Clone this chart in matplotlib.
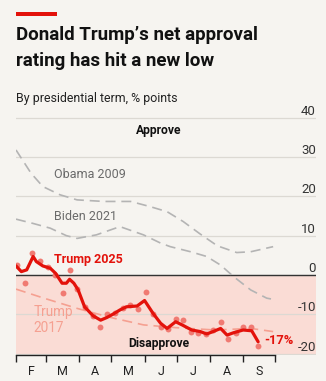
import matplotlib
matplotlib.use("Agg")
import matplotlib.pyplot as plt

# ---------------- data ----------------
months = ["F", "M", "A", "M", "J", "J", "A", "S"]
month_starts = [0, 28, 59, 89, 120, 150, 181, 212, 242]   # days since Feb 1

trump25_days = [0, 5, 10, 16, 19, 25, 32, 37, 43, 47, 50, 54, 58, 64, 72, 79, 85, 91, 97,
                103, 113, 120, 128, 135, 141, 149, 155, 164, 172, 178, 184, 191, 197, 203,
                212, 220, 226]
trump25_vals = [2.3, 0.85, 1.3, 4.7, 3.4, 2.3, 1.7, 0.4, -2.1, -2.1, -1.1, -2.1, -3.8, -8.1,
                -10.4, -11.5, -10.8, -9.9, -8.9, -8.1, -7.9, -6.5, -9.8, -12.3, -13.6, -11.9,
                -12.7, -14.0, -14.4, -15.0, -14.4, -13.6, -15.3, -14.7, -14.0, -14.2, -17.0]

poll_days = [1, 8, 15, 22, 30, 36, 44, 50, 57, 64, 72, 78, 85, 92, 100, 106, 114, 121, 128,
             135, 142, 149, 156, 163, 170, 177, 184, 191, 198, 205, 212, 219, 226]
poll_vals = [2.5, -2.1, 5.5, 3.6, 1.9, 0.0, -4.7, 1.3, -3.6, -8.2, -10.4, -13.2, -9.9, -9.6,
             -8.5, -7.6, -8.7, -4.4, -9.9, -13.2, -13.8, -11.3, -11.5, -14.4, -14.7, -15.0,
             -14.0, -11.9, -16.4, -14.7, -13.3, -13.3, -18.1]

trump17_days = [0, 26, 57, 88, 119, 149, 186, 219, 240]
trump17_vals = [-3.6, -5.9, -8.5, -10.8, -12.7, -13.4, -14.0, -13.6, -14.4]

obama_days = [0, 14, 25, 41, 57, 82, 107, 125, 141, 156, 172, 188, 206, 219, 240]
obama_vals = [31.8, 25.9, 22.5, 20.4, 19.1, 18.7, 18.7, 17.4, 16.1, 13.6, 10.4, 7.4, 5.7, 5.9, 7.2]

biden_days = [0, 16, 32, 47, 57, 75, 97, 119, 135, 144, 163, 178, 191, 203, 219, 234, 238]
biden_vals = [14.2, 13.1, 11.9, 10.0, 9.3, 10.2, 12.3, 10.2, 8.1, 7.2, 5.9, 4.7, 2.5, -0.4,
              -3.8, -5.9, -6.1]

yticks = [-20, -10, 0, 10, 20, 30, 40]
ytick_labels = ["-20", "-10", "0", "10", "20", "30", "40"]

# ---------------- style ----------------
BG = "#f6f4f0"
PINK = "#fadcd5"
RED = "#e3120b"
DOT = "#f07a72"
SALMON = "#f5a091"
GREY = "#b4b4b4"
FONT = "Roboto"

W, H = 326, 381
fig = plt.figure(figsize=(W / 100, H / 100), dpi=100, facecolor=BG)

ax_left, ax_right = 16, 316
ax_bot, ax_top = 355, 113
ax = fig.add_axes([ax_left / W, 1 - ax_bot / H, (ax_right - ax_left) / W, (ax_bot - ax_top) / H])
ax.set_facecolor(BG)
ymin, ymax = -20.36, 41.2
ax.set_ylim(ymin, ymax)
ax.set_xlim(0, 280)


def py(pix):
    """convert a pixel row (from top) to a data value on the y axis"""
    return (275 - pix) / 3.93


ax.axhspan(ymin, 0, color=PINK, zorder=0, lw=0)
ax.set_yticks(yticks)
ax.set_yticklabels(ytick_labels)
ax.grid(axis="y", color="#dcd9d3", lw=0.9, zorder=1)
ax.axhline(0, color="#333333", lw=1.0, zorder=2)

for s in ["left", "right", "top"]:
    ax.spines[s].set_visible(False)
ax.spines["bottom"].set_bounds(0, 242)
ax.spines["bottom"].set_color("#222222")
ax.spines["bottom"].set_linewidth(1.0)

ax.yaxis.tick_right()
ax.tick_params(axis="y", length=0, pad=0, labelsize=9.5, labelcolor="#333333")
for lab in ax.get_yticklabels():
    lab.set_ha("right")
    lab.set_va("bottom")
    lab.set_fontfamily(FONT)

ax.set_xticks(month_starts)
ax.set_xticklabels([])
ax.tick_params(axis="x", which="major", length=5, width=1.0, color="#222222")
mids = [(month_starts[i] + month_starts[i + 1]) / 2 for i in range(len(months))]
ax.set_xticks(mids, minor=True)
ax.set_xticklabels(months, minor=True, fontsize=9, fontfamily=FONT, color="#222222")
ax.tick_params(axis="x", which="minor", length=0, pad=7)

# lines
ax.plot(obama_days, obama_vals, color=GREY, lw=1.2, dashes=(6, 3.5), zorder=3)
ax.plot(biden_days, biden_vals, color=GREY, lw=1.2, dashes=(6, 3.5), zorder=3)
ax.plot(trump17_days, trump17_vals, color=SALMON, lw=1.2, dashes=(6, 3.5), zorder=3)
ax.scatter(poll_days, poll_vals, s=18, color=DOT, lw=0, zorder=4)
ax.plot(trump25_days, trump25_vals, color=RED, lw=2.3, zorder=5,
        solid_joinstyle="round", solid_capstyle="round")

# annotations
ax.text(35, py(175), "Obama 2009", fontsize=9.0, family=FONT, color="#6a6a6a",
        va="center", ha="left")
ax.text(35, py(217), "Biden 2021", fontsize=9.0, family=FONT, color="#6a6a6a",
        va="center", ha="left")
ax.text(35, py(259.5), "Trump 2025", fontsize=9.0, family=FONT, weight="bold",
        color=RED, va="center", ha="left")
ax.text(16, py(320), "Trump\n2017", fontsize=9.8, family=FONT, color=SALMON,
        va="center", ha="left", linespacing=1.25)
ax.text(133, py(131), "Approve", fontsize=8.7, family=FONT, weight="bold",
        color="#111111", va="center", ha="center")
ax.text(133, py(344), "Disapprove", fontsize=8.7, family=FONT, weight="bold",
        color="#111111", va="center", ha="center")
ax.text(232, py(341), "-17%", fontsize=9.3, family=FONT, weight="bold",
        color=RED, va="center", ha="left")

# titles
fig.add_artist(plt.Rectangle((16 / W, 1 - 15.5 / H), 41 / W, 4 / H, color=RED,
                             transform=fig.transFigure, lw=0))
fig.text(16 / W, 1 - 40 / H, "Donald Trump\u2019s net approval", fontsize=13.5, weight="bold",
         family=FONT, color="#111111", va="baseline", ha="left")
fig.text(16 / W, 1 - 65.5 / H, "rating has hit a new low", fontsize=13.5, weight="bold",
         family=FONT, color="#111111", va="baseline", ha="left")
fig.text(16 / W, 1 - 102 / H, "By presidential term, % points", fontsize=8.9,
         family=FONT, color="#222222", va="baseline", ha="left")

fig.savefig("out.png", dpi=100, facecolor=BG)
